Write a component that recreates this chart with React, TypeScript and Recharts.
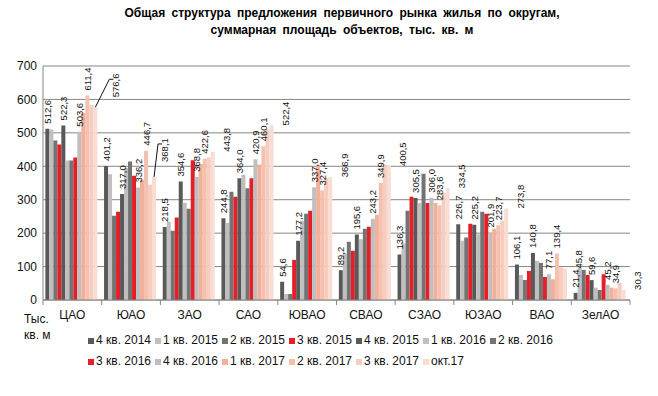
import { BarChart, Bar, XAxis, YAxis, CartesianGrid, LabelList, Legend } from 'recharts';

const districts = ['ЦАО', 'ЮАО', 'ЗАО', 'САО', 'ЮВАО', 'СВАО', 'СЗАО', 'ЮЗАО', 'ВАО', 'ЗелАО'];

const periods = [
  '4 кв. 2014', '1 кв. 2015', '2 кв. 2015', '3 кв. 2015', '4 кв. 2015', '1 кв. 2016', '2 кв. 2016',
  '3 кв. 2016', '4 кв. 2016', '1 кв. 2017', '2 кв. 2017', '3 кв. 2017', 'окт.17',
];

// тыс. кв. м по округам
const q4y2014 = [512.6, 401.2, 218.5, 244.8, 54.6, 89.2, 136.3, 226.7, 106.1, 21.4];
const q1y2015 = [510, 376, 234, 231, 18, 139, 170, 177, 75, 97];
const q2y2015 = [477, 252, 207, 324, 18, 174, 267, 187, 60, 90];
const q3y2015 = [465, 264, 247, 309, 120, 147, 309, 228, 87, 75];
const q4y2015 = [522.3, 317.0, 354.6, 364.0, 177.2, 195.6, 305.5, 225.2, 140.8, 59.6];
const q1y2016 = [417, 395, 291, 375, 237, 182, 290, 197, 117, 37];
const q2y2016 = [417, 414, 273, 334, 258, 213, 378, 264, 111, 30];
const q3y2016 = [426, 372, 418, 364, 267, 219, 290, 258, 69, 77];
const q4y2016 = [503.6, 336.2, 368.8, 420.9, 337.0, 243.2, 306.0, 201.9, 77.1, 45.2];
const q1y2017 = [559, 360, 407, 405, 403, 255, 290, 213, 62, 37];
const q2y2017 = [611.4, 446.7, 422.6, 460.1, 327.4, 349.9, 283.6, 223.7, 139.4, 34.9];
const q3y2017 = [583, 345, 426, 510, 364, 405, 320, 237, 99, 51];
const oct2017 = [576.6, 368.1, 443.8, 522.4, 366.9, 400.5, 334.5, 273.8, 94, 30.3];

// подписи окт.17 как на исходной диаграмме
const oct2017Labels = ['576,6', '368,1', '443,8', '522,4', '366,9', '400,5', '334,5', '273,8', '45,8', '30,3'];

const yTicks = [0, 100, 200, 300, 400, 500, 600, 700];

const seriesValues = [
  q4y2014, q1y2015, q2y2015, q3y2015, q4y2015, q1y2016, q2y2016,
  q3y2016, q4y2016, q1y2017, q2y2017, q3y2017, oct2017,
];

const colors = [
  '#595959', '#bfbfbf', '#737373', '#e3202a', '#595959', '#bfbfbf', '#737373',
  '#e3202a', '#bfbfbf', '#f2b09b', '#f5c0ae', '#f7cdbf', '#f9dcd2',
];

const labelled = [0, 4, 8, 10];

// label nudges for окт.17 (leader lines on the first two)
const octNudge: Record<number, { dx: number; lift: number }> = {
  0: { dx: 20, lift: 10 },
  1: { dx: 10, lift: 15 },
};

const data = districts.map((name, i) => {
  const row: Record<string, string | number> = { name };
  seriesValues.forEach((vals, s) => {
    row['s' + s] = vals[i];
  });
  return row;
});

const FONT = 'Arial, "Liberation Sans", sans-serif';

const fmt = (v: number) => v.toFixed(1).replace('.', ',');

const BarLabel = (props: any) => {
  const { x, y, width, value } = props;
  const cx = x + width / 2;
  const ty = y - 5;
  return (
    <text
      x={cx}
      y={ty}
      transform={`rotate(-90, ${cx}, ${ty})`}
      textAnchor="start"
      dominantBaseline="central"
      fontSize={9.5}
      fontFamily={FONT}
      fill="#111"
    >
      {fmt(Number(value))}
    </text>
  );
};

const OctLabel = (props: any) => {
  const { x, y, width, index } = props;
  const bx = x + width / 2;
  const nudge = octNudge[index];
  const cx = bx + (nudge ? nudge.dx : 14);
  const ty = y - (nudge ? nudge.lift : 0);
  return (
    <g>
      {nudge && (
        <polyline
          points={`${bx},${y} ${cx - 6},${ty - 18} ${cx - 2},${ty - 18}`}
          fill="none"
          stroke="#111"
          strokeWidth={1}
        />
      )}
      <text
        x={cx}
        y={ty}
        transform={`rotate(-90, ${cx}, ${ty})`}
        textAnchor="start"
        dominantBaseline="central"
        fontSize={9.5}
        fontFamily={FONT}
        fill="#111"
      >
        {oct2017Labels[index]}
      </text>
    </g>
  );
};

const CategoryTick = (props: any) => {
  const { x, y, payload, index } = props;
  const half = payload.offset ?? 29;
  return (
    <g>
      <line x1={x - half} x2={x - half} y1={y} y2={y + 5} stroke="#868686" />
      {index === districts.length - 1 && (
        <line x1={x + half} x2={x + half} y1={y} y2={y + 5} stroke="#868686" />
      )}
      <text x={x} y={y + 19} textAnchor="middle" fontSize={12} fontFamily={FONT} fill="#111">
        {payload.value}
      </text>
    </g>
  );
};

const LegendRows = () => {
  const rows = [periods.slice(0, 7), periods.slice(7)];
  let k = 0;
  return (
    <div style={{ fontFamily: FONT, fontSize: 12, color: '#111', lineHeight: '21px' }}>
      {rows.map((row, r) => (
        <div key={r} style={{ display: 'flex', whiteSpace: 'nowrap', height: 21, alignItems: 'center' }}>
          {row.map((p) => {
            const c = colors[k++];
            return (
              <span key={p} style={{ display: 'inline-flex', alignItems: 'center', marginRight: 4 }}>
                <span style={{ width: 6, height: 6, background: c, marginRight: 2, display: 'inline-block' }} />
                {p}
              </span>
            );
          })}
        </div>
      ))}
    </div>
  );
};

export default function App() {
  return (
    <div style={{ position: 'fixed', left: 0, top: 0, width: 658, height: 396, background: '#fff' }}>
      <div
        style={{
          position: 'absolute', left: 0, top: 5, width: 684, textAlign: 'center',
          fontFamily: FONT, fontWeight: 'bold', fontSize: 12, lineHeight: '17px', color: '#000',
          wordSpacing: 3,
        }}
      >
        Общая структура предложения первичного рынка жилья по округам,
        <br />
        суммарная площадь объектов, тыс. кв. м
      </div>
      <div
        style={{
          position: 'absolute', left: 24, top: 311, fontFamily: FONT, fontSize: 12,
          lineHeight: '16px', color: '#111',
        }}
      >
        Тыс.
        <br />
        кв. м
      </div>
      <BarChart
        width={658}
        height={396}
        data={data}
        margin={{ top: 66, right: 28, left: 0, bottom: 24 }}
        barGap={0}
        barCategoryGap="4%"
      >
        <CartesianGrid vertical={false} stroke="#868686" />
        <XAxis
          dataKey="name"
          height={30}
          tickSize={0}
          tickMargin={0}
          axisLine={{ stroke: '#868686' }}
          tickLine={false}
          tick={<CategoryTick />}
          interval={0}
        />
        <YAxis
          width={43}
          domain={[0, 700]}
          ticks={yTicks}
          tickSize={4}
          tickMargin={2}
          tickLine={false}
          axisLine={{ stroke: '#868686' }}
          tick={{ fontSize: 12, fontFamily: FONT, fill: '#111' }}
          allowDataOverflow
        />
        <Legend
          verticalAlign="bottom"
          align="left"
          height={42}
          wrapperStyle={{ left: 88, width: 520, height: 42 }}
          content={<LegendRows />}
        />
        {seriesValues.map((_, s) => (
          <Bar key={s} dataKey={'s' + s} name={periods[s]} fill={colors[s]} isAnimationActive={false}>
            {labelled.includes(s) && <LabelList dataKey={'s' + s} content={<BarLabel />} />}
            {s === 12 && <LabelList dataKey={'s' + s} content={<OctLabel />} />}
          </Bar>
        ))}
      </BarChart>
    </div>
  );
}
